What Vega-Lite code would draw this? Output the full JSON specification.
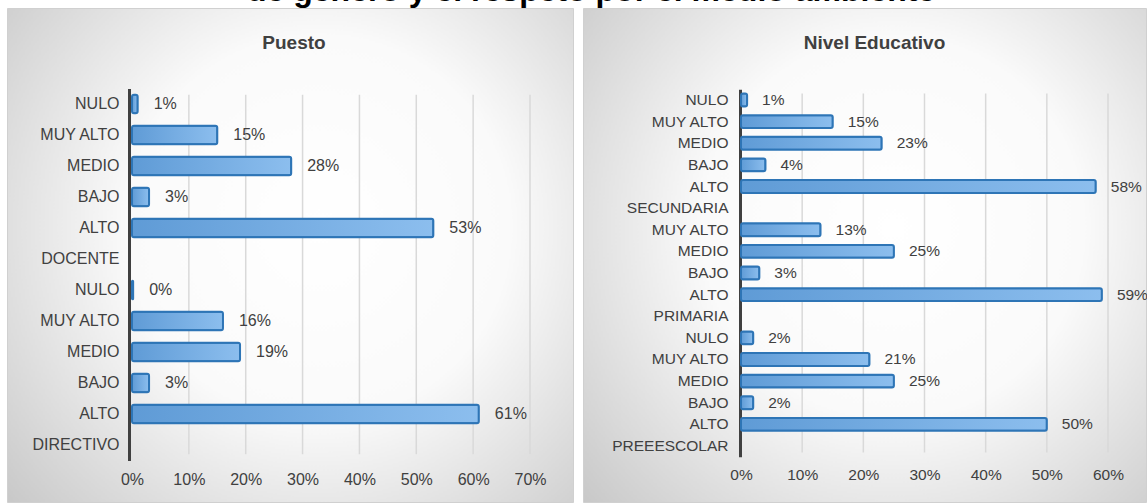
{
  "$schema": "https://vega.github.io/schema/vega-lite/v6.json",
  "padding": {"left": 6, "top": -26, "right": 4, "bottom": 2},
  "background": "#ffffff",
  "title": {"text": "de género y el respeto por el medio ambiente", "fontSize": 32, "fontWeight": "bold", "color": "#000000", "baseline": "alphabetic", "offset": -25, "anchor": "start", "frame": "group", "dx": 240},
  "spacing": 8,
  "datasets": {
    "puesto": [
      {"grupo": "DOCENTE", "nivel": "NULO", "key": "DOCENTE|NULO", "valor": 0.01},
      {"grupo": "DOCENTE", "nivel": "MUY ALTO", "key": "DOCENTE|MUY ALTO", "valor": 0.15},
      {"grupo": "DOCENTE", "nivel": "MEDIO", "key": "DOCENTE|MEDIO", "valor": 0.28},
      {"grupo": "DOCENTE", "nivel": "BAJO", "key": "DOCENTE|BAJO", "valor": 0.03},
      {"grupo": "DOCENTE", "nivel": "ALTO", "key": "DOCENTE|ALTO", "valor": 0.53},
      {"grupo": "DIRECTIVO", "nivel": "NULO", "key": "DIRECTIVO|NULO", "valor": 0.002},
      {"grupo": "DIRECTIVO", "nivel": "MUY ALTO", "key": "DIRECTIVO|MUY ALTO", "valor": 0.16},
      {"grupo": "DIRECTIVO", "nivel": "MEDIO", "key": "DIRECTIVO|MEDIO", "valor": 0.19},
      {"grupo": "DIRECTIVO", "nivel": "BAJO", "key": "DIRECTIVO|BAJO", "valor": 0.03},
      {"grupo": "DIRECTIVO", "nivel": "ALTO", "key": "DIRECTIVO|ALTO", "valor": 0.61}
    ],
    "nivel": [
      {"grupo": "SECUNDARIA", "nivel": "NULO", "key": "SECUNDARIA|NULO", "valor": 0.01},
      {"grupo": "SECUNDARIA", "nivel": "MUY ALTO", "key": "SECUNDARIA|MUY ALTO", "valor": 0.15},
      {"grupo": "SECUNDARIA", "nivel": "MEDIO", "key": "SECUNDARIA|MEDIO", "valor": 0.23},
      {"grupo": "SECUNDARIA", "nivel": "BAJO", "key": "SECUNDARIA|BAJO", "valor": 0.04},
      {"grupo": "SECUNDARIA", "nivel": "ALTO", "key": "SECUNDARIA|ALTO", "valor": 0.58},
      {"grupo": "PRIMARIA", "nivel": "MUY ALTO", "key": "PRIMARIA|MUY ALTO", "valor": 0.13},
      {"grupo": "PRIMARIA", "nivel": "MEDIO", "key": "PRIMARIA|MEDIO", "valor": 0.25},
      {"grupo": "PRIMARIA", "nivel": "BAJO", "key": "PRIMARIA|BAJO", "valor": 0.03},
      {"grupo": "PRIMARIA", "nivel": "ALTO", "key": "PRIMARIA|ALTO", "valor": 0.59},
      {"grupo": "PREEESCOLAR", "nivel": "NULO", "key": "PREEESCOLAR|NULO", "valor": 0.02},
      {"grupo": "PREEESCOLAR", "nivel": "MUY ALTO", "key": "PREEESCOLAR|MUY ALTO", "valor": 0.21},
      {"grupo": "PREEESCOLAR", "nivel": "MEDIO", "key": "PREEESCOLAR|MEDIO", "valor": 0.25},
      {"grupo": "PREEESCOLAR", "nivel": "BAJO", "key": "PREEESCOLAR|BAJO", "valor": 0.02},
      {"grupo": "PREEESCOLAR", "nivel": "ALTO", "key": "PREEESCOLAR|ALTO", "valor": 0.50}
    ],
    "gridP": [{"t": 0.1}, {"t": 0.2}, {"t": 0.3}, {"t": 0.4}, {"t": 0.5}, {"t": 0.6}, {"t": 0.7}],
    "gridN": [{"t": 0.1}, {"t": 0.2}, {"t": 0.3}, {"t": 0.4}, {"t": 0.5}, {"t": 0.6}]
  },
  "hconcat": [
    {
      "width": 566,
      "height": 494,
      "view": {
        "fill": {"gradient": "radial", "x1": 0.55, "y1": 0.45, "r1": 0, "x2": 0.55, "y2": 0.45, "r2": 0.75, "stops": [{"offset": 0, "color": "#ffffff"}, {"offset": 0.45, "color": "#fafafa"}, {"offset": 1, "color": "#c6c6c6"}]},
        "stroke": "#d0d0d0",
        "strokeWidth": 1
      },
      "title": {"text": "Puesto", "fontSize": 19, "fontWeight": "bold", "color": "#404040", "baseline": "alphabetic", "offset": -60, "anchor": "middle", "frame": "group", "dx": 4},
      "layer": [
        {
          "data": {"name": "gridP"},
          "mark": {"type": "rule", "color": "#d9d9d9", "strokeWidth": 1.5},
          "encoding": {
            "x": {"field": "t", "type": "quantitative", "title": null},
            "y": {"datum": "DOCENTE|NULO", "type": "nominal", "bandPosition": 0, "title": null},
            "y2": {"datum": "DIRECTIVO", "bandPosition": 1}
          }
        },
        {
          "mark": {"type": "rect", "fill": {"gradient": "linear", "x1": 0, "y1": 0, "x2": 1, "y2": 0, "stops": [{"offset": 0, "color": "#9a9a9a"}, {"offset": 1, "color": "#d4d4d4"}]}},
          "encoding": {
            "x": {"datum": 0, "type": "quantitative", "title": null},
            "x2": {"datum": 0.014},
            "y": {"datum": "DOCENTE|NULO", "type": "nominal", "bandPosition": 0, "title": null},
            "y2": {"datum": "DIRECTIVO", "bandPosition": 1}
          }
        },
        {
          "data": {"name": "puesto"},
          "mark": {
            "type": "bar",
            "fill": {"gradient": "linear", "x1": 0, "y1": 0, "x2": 1, "y2": 0, "stops": [{"offset": 0, "color": "#5f9bd6"}, {"offset": 1, "color": "#8cbeee"}]},
            "stroke": "#2e75b6",
            "strokeWidth": 2,
            "cornerRadius": 2
          },
          "encoding": {
            "y": {
              "field": "key", "type": "nominal", "title": null,
              "scale": {"domain": ["DOCENTE|NULO", "DOCENTE|MUY ALTO", "DOCENTE|MEDIO", "DOCENTE|BAJO", "DOCENTE|ALTO", "DOCENTE", "DIRECTIVO|NULO", "DIRECTIVO|MUY ALTO", "DIRECTIVO|MEDIO", "DIRECTIVO|BAJO", "DIRECTIVO|ALTO", "DIRECTIVO"], "range": [80.5, 452.5], "paddingInner": 0.4, "paddingOuter": 0.2},
              "axis": {"offset": -122, "domainColor": "#404040", "domainWidth": 3, "ticks": false, "grid": false, "labelPadding": 10, "labelFontSize": 16, "labelColor": "#404040", "labelFont": "Liberation Sans", "labelExpr": "indexof(datum.label, '|') >= 0 ? split(datum.label, '|')[1] : datum.label"}
            },
            "x": {
              "field": "valor", "type": "quantitative", "title": null,
              "scale": {"domain": [0, 0.7], "range": [125, 523], "nice": false, "zero": true},
              "axis": {"offset": -31, "domain": false, "ticks": false, "grid": false, "labelPadding": 0, "format": ".0%", "values": [0, 0.1, 0.2, 0.3, 0.4, 0.5, 0.6, 0.7], "labelFontSize": 16, "labelColor": "#404040", "labelFont": "Liberation Sans", "labelFlush": false}
            }
          }
        },
        {
          "data": {"name": "puesto"},
          "mark": {"type": "text", "align": "left", "baseline": "middle", "dx": 16, "fontSize": 16, "color": "#404040", "font": "Liberation Sans"},
          "encoding": {
            "y": {"field": "key", "type": "nominal", "title": null},
            "x": {"field": "valor", "type": "quantitative", "title": null},
            "text": {"field": "valor", "type": "quantitative", "format": ".0%"}
          }
        }
      ]
    },
    {
      "width": 563,
      "height": 494,
      "view": {
        "fill": {"gradient": "radial", "x1": 0.55, "y1": 0.45, "r1": 0, "x2": 0.55, "y2": 0.45, "r2": 0.75, "stops": [{"offset": 0, "color": "#ffffff"}, {"offset": 0.45, "color": "#fafafa"}, {"offset": 1, "color": "#c6c6c6"}]},
        "stroke": "#d0d0d0",
        "strokeWidth": 1
      },
      "title": {"text": "Nivel Educativo", "fontSize": 19, "fontWeight": "bold", "color": "#404040", "baseline": "alphabetic", "offset": -60, "anchor": "middle", "frame": "group", "dx": 10},
      "layer": [
        {
          "data": {"name": "gridN"},
          "mark": {"type": "rule", "color": "#d9d9d9", "strokeWidth": 1.5},
          "encoding": {
            "x": {"field": "t", "type": "quantitative", "title": null},
            "y": {"datum": "SECUNDARIA|NULO", "type": "nominal", "bandPosition": 0, "title": null},
            "y2": {"datum": "PREEESCOLAR", "bandPosition": 1}
          }
        },
        {
          "mark": {"type": "rect", "fill": {"gradient": "linear", "x1": 0, "y1": 0, "x2": 1, "y2": 0, "stops": [{"offset": 0, "color": "#9a9a9a"}, {"offset": 1, "color": "#d4d4d4"}]}},
          "encoding": {
            "x": {"datum": 0, "type": "quantitative", "title": null},
            "x2": {"datum": 0.013},
            "y": {"datum": "SECUNDARIA|NULO", "type": "nominal", "bandPosition": 0, "title": null},
            "y2": {"datum": "PREEESCOLAR", "bandPosition": 1}
          }
        },
        {
          "data": {"name": "nivel"},
          "mark": {
            "type": "bar",
            "fill": {"gradient": "linear", "x1": 0, "y1": 0, "x2": 1, "y2": 0, "stops": [{"offset": 0, "color": "#5f9bd6"}, {"offset": 1, "color": "#8cbeee"}]},
            "stroke": "#2e75b6",
            "strokeWidth": 2,
            "cornerRadius": 2
          },
          "encoding": {
            "y": {
              "field": "key", "type": "nominal", "title": null,
              "scale": {"domain": ["SECUNDARIA|NULO", "SECUNDARIA|MUY ALTO", "SECUNDARIA|MEDIO", "SECUNDARIA|BAJO", "SECUNDARIA|ALTO", "SECUNDARIA", "PRIMARIA|MUY ALTO", "PRIMARIA|MEDIO", "PRIMARIA|BAJO", "PRIMARIA|ALTO", "PRIMARIA", "PREEESCOLAR|NULO", "PREEESCOLAR|MUY ALTO", "PREEESCOLAR|MEDIO", "PREEESCOLAR|BAJO", "PREEESCOLAR|ALTO", "PREEESCOLAR"], "range": [81.2, 448.8], "paddingInner": 0.4, "paddingOuter": 0.2},
              "axis": {"offset": -157, "domainColor": "#404040", "domainWidth": 3, "ticks": false, "grid": false, "labelPadding": 12, "labelFontSize": 15.5, "labelColor": "#404040", "labelFont": "Liberation Sans", "labelExpr": "indexof(datum.label, '|') >= 0 ? split(datum.label, '|')[1] : datum.label"}
            },
            "x": {
              "field": "valor", "type": "quantitative", "title": null,
              "scale": {"domain": [0, 0.6], "range": [158, 525], "nice": false, "zero": true},
              "axis": {"offset": -35, "domain": false, "ticks": false, "grid": false, "labelPadding": 0, "format": ".0%", "values": [0, 0.1, 0.2, 0.3, 0.4, 0.5, 0.6], "labelFontSize": 15.5, "labelColor": "#404040", "labelFont": "Liberation Sans", "labelFlush": false}
            }
          }
        },
        {
          "data": {"name": "nivel"},
          "mark": {"type": "text", "align": "left", "baseline": "middle", "dx": 15, "fontSize": 15.5, "color": "#404040", "font": "Liberation Sans"},
          "encoding": {
            "y": {"field": "key", "type": "nominal", "title": null},
            "x": {"field": "valor", "type": "quantitative", "title": null},
            "text": {"field": "valor", "type": "quantitative", "format": ".0%"}
          }
        }
      ]
    }
  ],
  "config": {
    "font": "Liberation Sans",
    "title": {"font": "Liberation Sans"}
  }
}
